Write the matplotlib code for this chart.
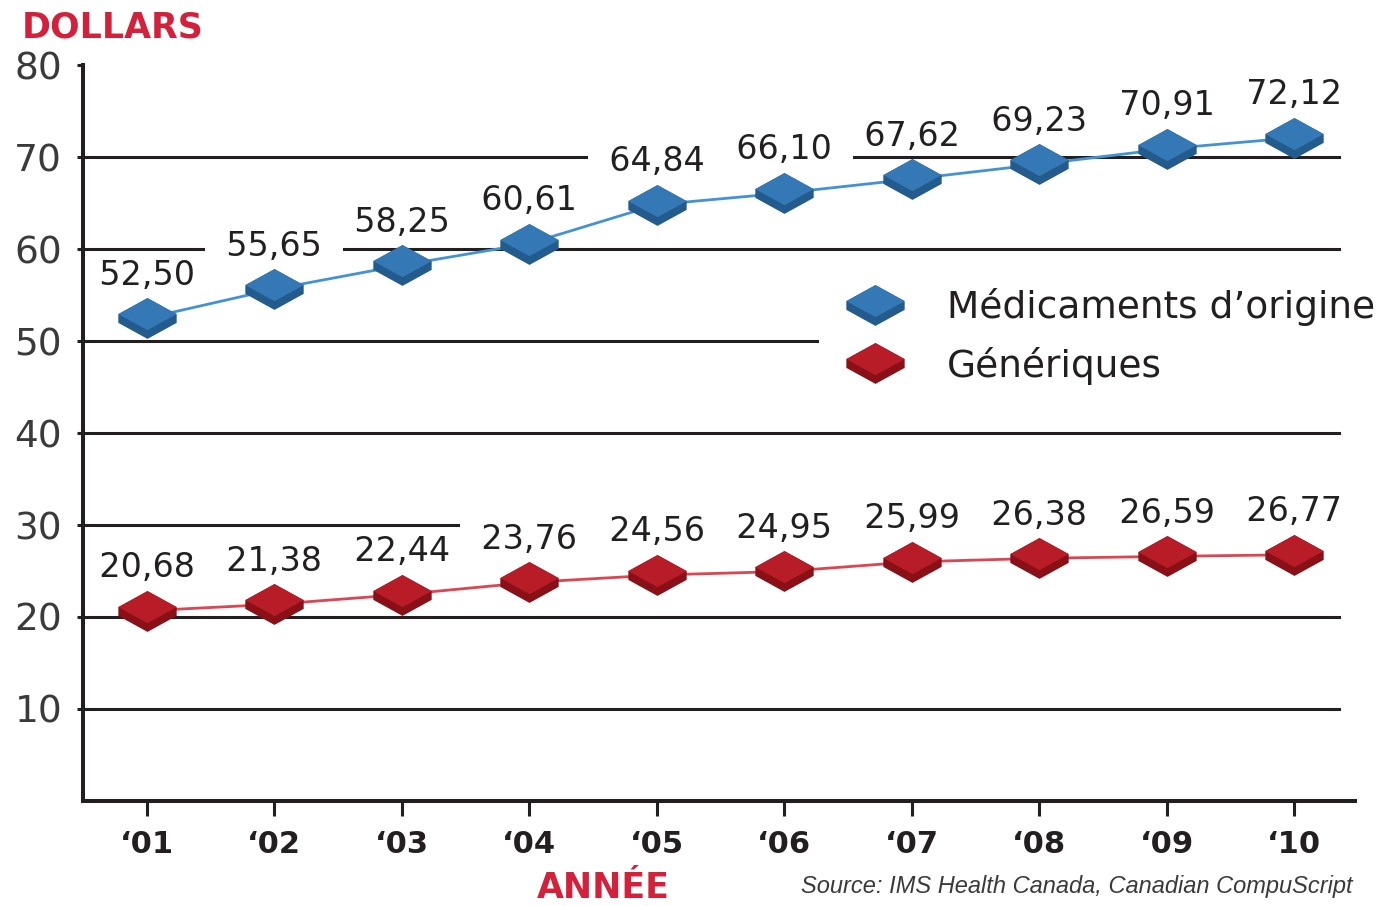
import matplotlib
matplotlib.use('Agg')
import matplotlib.pyplot as plt
from matplotlib.path import Path
from matplotlib.legend_handler import HandlerTuple

# prix moyen par ordonnance, en dollars
years = ['\u201801', '\u201802', '\u201803', '\u201804', '\u201805',
         '\u201806', '\u201807', '\u201808', '\u201809', '\u201810']
brand = [52.50, 55.65, 58.25, 60.61, 64.84, 66.10, 67.62, 69.23, 70.91, 72.12]
generic = [20.68, 21.38, 22.44, 23.76, 24.56, 24.95, 25.99, 26.38, 26.59, 26.77]
yticks = [10, 20, 30, 40, 50, 60, 70, 80]
gridvals = [10, 20, 30, 40, 50, 60, 70]

RED = '#d3213b'
INK = '#231f20'

# flat 3D diamond: top face + darker extruded side
top_face = Path([(-1, 0.15), (0, 0.70), (1, 0.15), (0, -0.40), (-1, 0.15)], closed=True)
side_face = Path([(-1, 0.15), (0, 0.70), (1, 0.15), (1, -0.15), (0, -0.70),
                  (-1, -0.15), (-1, 0.15)], closed=True)

series = [
    (brand, 'Médicaments d\u2019origine', '#4393d3', '#3479b6', '#225b8c'),
    (generic, 'Génériques', '#db4652', '#b81c26', '#8a1017'),
]

fig = plt.figure(figsize=(13.83, 9.06), dpi=100)
ax = fig.add_axes([0.060, 0.116, 0.920, 0.812])

x = list(range(len(years)))
ax.set_xlim(-0.5, 9.48)
ax.set_ylim(0, 80)

for g in gridvals:
    ax.axhline(g, xmin=0, xmax=0.987, color=INK, lw=2.2, zorder=1)

handles = []
for vals, name, lc, fc, dc in series:
    ax.plot(x, vals, color=lc, lw=2, zorder=2)
    s, = ax.plot(x, vals, ls='none', marker=side_face, ms=42, mfc=dc, mec='none', zorder=3)
    t, = ax.plot(x, vals, ls='none', marker=top_face, ms=42, mfc=fc, mec='none', zorder=3)
    handles.append(((s, t), name))
    for xi, v in zip(x, vals):
        txt = '  ' + f'{v:.2f}'.replace('.', ',') + '  '
        ax.annotate(txt, (xi, v), xytext=(0, 31), textcoords='offset points',
                    ha='center', va='center', fontsize=24, color=INK,
                    bbox=dict(fc='white', ec='none', pad=0), zorder=4)

leg = ax.legend([h for h, _ in handles], [n for _, n in handles],
                handler_map={tuple: HandlerTuple(ndivide=1, pad=0)},
                loc='center left', bbox_to_anchor=(0.592, 0.6286),
                bbox_transform=fig.transFigure, borderaxespad=0,
                fontsize=27, frameon=True, fancybox=False, framealpha=1,
                edgecolor='none', facecolor='white', borderpad=0.5,
                labelspacing=0.54, handlelength=2.0, handletextpad=0.93)
for t in leg.get_texts():
    t.set_color(INK)
leg.set_zorder(5)

for side in ['top', 'right']:
    ax.spines[side].set_visible(False)
for side in ['left', 'bottom']:
    ax.spines[side].set_linewidth(2.9)
    ax.spines[side].set_color(INK)
    ax.spines[side].set_zorder(6)

ax.set_yticks(yticks)
ax.set_yticklabels([str(v) for v in yticks])
ax.tick_params(axis='y', length=4, width=2.2, color=INK, pad=11,
               labelsize=27, labelcolor='#3a3a3a')
ax.set_xticks(x)
ax.set_xticklabels(years, fontweight='bold')
ax.tick_params(axis='x', length=11, width=2.2, color=INK, pad=10,
               labelsize=22, labelcolor=INK)

fig.text(22 / 1383, 1 - 27 / 906, 'DOLLARS', color=RED, fontsize=25,
         fontweight='bold', ha='left', va='center')
fig.text(603 / 1383, 1 - 888 / 906, 'ANNÉE', color=RED, fontsize=25,
         fontweight='bold', ha='center', va='center')
fig.text(801 / 1383, 1 - 886 / 906, 'Source: IMS Health Canada, Canadian CompuScript',
         color='#3a3a3a', fontsize=17, fontstyle='italic', family='Liberation Sans',
         ha='left', va='center')

fig.savefig('out.png', dpi=100, facecolor='white')
